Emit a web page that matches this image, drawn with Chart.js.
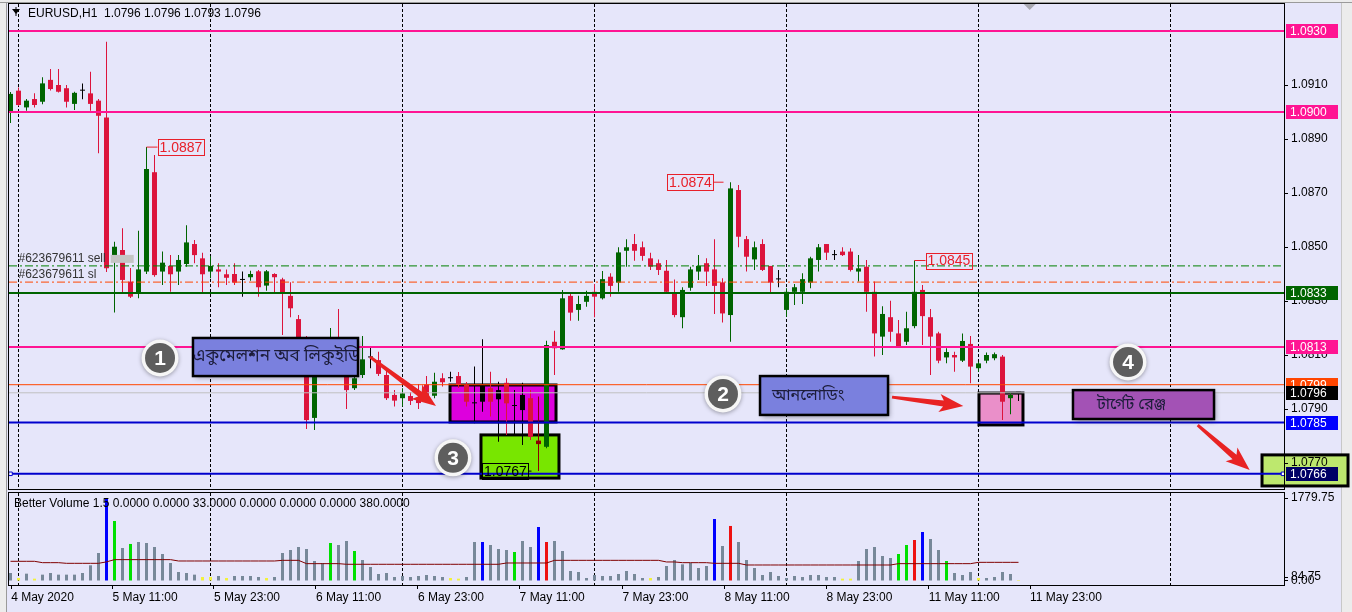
<!DOCTYPE html>
<html>
<head>
<meta charset="utf-8">
<title>EURUSD,H1</title>
<script src="https://cdn.jsdelivr.net/npm/chart.js@4.4.1/dist/chart.umd.min.js"></script>
<style>
  html, body { margin: 0; padding: 0; }
  body { width: 1352px; height: 612px; overflow: hidden; position: relative; background: #e6e6fa; }
  canvas { position: absolute; left: 0; }
  #priceChart { top: 0; }
  #volChart { top: 491px; }
  .edge { position: absolute; background: #ececec; }
</style>
</head>
<body>
<div class="edge" style="left:0;top:0;width:6px;height:612px;border-right:1px solid #9a9a9a"></div>
<div class="edge" style="left:1341px;top:0;width:11px;height:612px;border-left:1px solid #c8c8c8"></div>
<div class="edge" style="left:0;top:0;width:1352px;height:2px;border-bottom:1px solid #9a9a9a"></div>
<canvas id="priceChart" width="1352" height="491"></canvas>
<canvas id="volChart" width="1352" height="121"></canvas>
<script>
// EURUSD H1 candles (bar 0 = leftmost)
const opens = [
  1.09000,1.09079,1.09017,1.09048,1.09038,1.09119,1.09100,1.09088,1.09030,1.09079,
  1.09069,1.09042,1.08980,1.08452,1.08489,1.08372,1.08329,1.08409,1.08777,1.08409,
  1.08430,1.08409,1.08437,1.08511,1.08458,1.08409,1.08417,1.08399,1.08400,1.08378,
  1.08388,1.08410,1.08357,1.08400,1.08380,1.08319,1.08233,1.08156,1.07867,1.08074,
  1.08111,1.08152,1.08037,1.07977,1.08026,1.08091,1.08081,1.08026,1.07952,1.07940,
  1.07948,1.07941,1.07991,1.07949,1.08014,1.08014,1.08022,1.07989,1.07921,1.07927,
  1.07977,1.07936,1.07997,1.07911,1.07896,1.07940,1.07783,1.07760,1.08149,1.08121,
  1.08319,1.08267,1.08297,1.08334,1.08310,1.08390,1.08368,1.08486,1.08511,1.08499,
  1.08458,1.08440,1.08412,1.08331,1.08240,1.08349,1.08409,1.08440,1.08417,1.08369,
  1.08248,1.08711,1.08529,1.08454,1.08511,1.08430,1.08380,1.08267,1.08334,1.08334,
  1.08368,1.08452,1.08511,1.08470,1.08483,1.08483,1.08409,1.08427,1.08334,1.08168,
  1.08240,1.08180,1.08149,1.08207,1.08341,1.08240,1.08180,1.08091,1.08100,1.08079,
  1.08141,1.08051,1.08079,1.08088,1.08094,1.07940,1.07960
];
const highs = [
  1.09074,1.09091,1.09048,1.09069,1.09129,1.09159,1.09159,1.09100,1.09075,1.09106,
  1.09149,1.09048,1.09260,1.08519,1.08569,1.08422,1.08560,1.08870,1.08841,1.08483,
  1.08470,1.08470,1.08581,1.08526,1.08479,1.08467,1.08440,1.08417,1.08440,1.08409,
  1.08412,1.08415,1.08415,1.08403,1.08386,1.08369,1.08248,1.08170,1.08111,1.08137,
  1.08200,1.08270,1.08063,1.08044,1.08170,1.08131,1.08112,1.08044,1.07970,1.07977,
  1.07963,1.07993,1.08022,1.08034,1.08032,1.08038,1.08037,1.08000,1.08057,1.08158,
  1.08038,1.08001,1.08014,1.07970,1.07997,1.07970,1.07946,1.08153,1.08190,1.08341,
  1.08331,1.08319,1.08338,1.08363,1.08411,1.08403,1.08499,1.08529,1.08548,1.08520,
  1.08479,1.08454,1.08452,1.08380,1.08351,1.08427,1.08470,1.08458,1.08529,1.08384,
  1.08740,1.08730,1.08541,1.08520,1.08529,1.08430,1.08415,1.08347,1.08363,1.08403,
  1.08464,1.08511,1.08511,1.08489,1.08499,1.08495,1.08470,1.08452,1.08372,1.08281,
  1.08301,1.08230,1.08260,1.08450,1.08359,1.08270,1.08186,1.08125,1.08112,1.08180,
  1.08170,1.08075,1.08109,1.08109,1.08100,1.07958,1.07960
];
const lows = [
  1.08959,1.09022,1.09005,1.09017,1.09029,1.09080,1.09072,1.09017,1.09007,1.09047,
  1.09005,1.08847,1.08407,1.08257,1.08329,1.08311,1.08310,1.08400,1.08390,1.08359,
  1.08334,1.08359,1.08427,1.08440,1.08331,1.08384,1.08351,1.08359,1.08359,1.08316,
  1.08375,1.08316,1.08338,1.08329,1.08174,1.08240,1.08137,1.07826,1.07822,1.08052,
  1.08096,1.08022,1.07900,1.07970,1.08015,1.08051,1.08022,1.07933,1.07909,1.07909,
  1.07915,1.07900,1.07940,1.07940,1.07983,1.08001,1.07978,1.07909,1.07847,1.07890,
  1.07872,1.07779,1.07804,1.07804,1.07767,1.07785,1.07670,1.07755,1.08026,1.08119,
  1.08227,1.08227,1.08279,1.08240,1.08306,1.08316,1.08334,1.08427,1.08449,1.08449,
  1.08415,1.08396,1.08330,1.08240,1.08199,1.08338,1.08378,1.08356,1.08252,1.08220,
  1.08149,1.08499,1.08409,1.08415,1.08411,1.08329,1.08351,1.08242,1.08285,1.08289,
  1.08347,1.08409,1.08452,1.08452,1.08467,1.08409,1.08372,1.08260,1.08094,1.08100,
  1.08149,1.08129,1.08137,1.08199,1.08137,1.08026,1.08069,1.08069,1.08038,1.08074,
  1.07995,1.08038,1.08069,1.08081,1.07859,1.07881,1.07930
];
const closes = [
  1.09067,1.09026,1.09042,1.09026,1.09106,1.09085,1.09075,1.09038,1.09071,1.09079,
  1.09030,1.08986,1.08421,1.08501,1.08378,1.08316,1.08417,1.08789,1.08396,1.08442,
  1.08399,1.08452,1.08517,1.08470,1.08399,1.08430,1.08409,1.08386,1.08368,1.08378,
  1.08400,1.08351,1.08410,1.08388,1.08329,1.08273,1.08156,1.07859,1.08081,1.08119,
  1.08156,1.08037,1.07970,1.08014,1.08084,1.08091,1.08030,1.07940,1.07931,1.07958,
  1.07930,1.07922,1.07946,1.08001,1.07999,1.08014,1.07989,1.07927,1.07921,1.07989,
  1.07927,1.07970,1.07921,1.07911,1.07952,1.07797,1.07770,1.08137,1.08125,1.08310,
  1.08257,1.08289,1.08319,1.08316,1.08381,1.08356,1.08480,1.08499,1.08486,1.08467,
  1.08427,1.08415,1.08334,1.08248,1.08341,1.08417,1.08430,1.08409,1.08356,1.08254,
  1.08717,1.08538,1.08464,1.08499,1.08415,1.08368,1.08380,1.08334,1.08351,1.08381,
  1.08458,1.08499,1.08479,1.08470,1.08470,1.08415,1.08421,1.08334,1.08180,1.08252,
  1.08186,1.08133,1.08199,1.08334,1.08244,1.08168,1.08079,1.08111,1.08091,1.08152,
  1.08057,1.08069,1.08100,1.08103,1.07927,1.07952,1.07960
];

// Better Volume indicator
const volumes = [
  172,64,157,50,136,172,136,136,136,172, 336,600,1780,1287,708,794,836,815,729,579,
  386,193,172,136,86,86,107,64,107,107, 107,86,64,86,600,665,729,686,429,386,
  815,772,858,643,450,300,150,172,86,107, 86,107,129,107,86,64,50,86,836,836,
  772,686,665,622,858,729,1158,836,858,643, 214,193,64,129,107,107,150,214,150,64,
  64,86,322,450,357,386,279,322,1330,751, 1180,836,450,279,129,193,107,64,107,86,
  129,129,86,86,50,50,429,686,729,536, 493,579,772,879,1051,901,665,429,172,129,
  193,64,64,86,193,150,21
];
const volumeMA = [
  422,422,422,422,393,393,393,379,379,379, 379,379,410,458,458,458,458,458,458,458,
  458,429,429,429,429,429,429,429,429,429, 429,429,429,429,443,443,443,372,372,372,
  372,372,358,358,358,358,358,358,358,358, 358,358,358,358,358,358,358,358,358,358,
  358,358,386,386,386,386,386,386,443,443, 443,443,443,443,443,443,443,443,443,443,
  443,443,408,408,393,393,393,393,379,379, 379,379,343,343,343,343,343,343,343,343,
  343,343,343,343,343,343,343,343,343,343, 343,372,372,372,372,372,372,372,372,372,
  372,400,400,400,400,400,400
];
const blueBars = [12, 59, 66, 88, 114];
const greenBars = [13, 15, 40, 43, 63, 111, 112, 117];
const redBars = [67, 90, 113];
const yellowBars = [1, 3, 24, 25, 27, 32, 55, 56, 80, 104, 105, 121, 126];

// axes
const priceTicks = [1.0770, 1.0790, 1.0810, 1.0830, 1.0850, 1.0870, 1.0890, 1.0910];
const volTicks = [1779.75, 84.75, 0];
const dayBars = [1, 25, 49, 73, 97, 121, 145];
const xTickBars = [0.08, 12.75, 25.43, 38.18, 50.93, 63.64, 76.49, 89.24, 101.99, 114.79, 127.44];
const xTickLabels = ['4 May 2020', '5 May 11:00', '5 May 23:00', '6 May 11:00', '6 May 23:00', '7 May 11:00',
                     '7 May 23:00', '8 May 11:00', '8 May 23:00', '11 May 11:00', '11 May 23:00'];

// horizontal levels and open order lines
const levelPrices = [1.0930, 1.0900, 1.0833, 1.0813, 1.0799, 1.0796, 1.0785, 1.0766];
const orderPrices = [1.0843, 1.0837];
const orderNames = ['#623679611 sell', '#623679611 sl'];

const FONT = '"Liberation Sans", Arial, sans-serif';
const BENGALI = '"Noto Sans Bengali", "Noto Sans", "Lohit Bengali", sans-serif';
const BULL = '#006400', BEAR = '#dc143c';
const X_MIN = -0.1875, X_MAX = X_MIN + 1275 / 8;

const levelStyle = [
  { color: '#ff1493', width: 2, tag: '#ff1493' },
  { color: '#ff1493', width: 2, tag: '#ff1493' },
  { color: '#006400', width: 2, tag: '#006400' },
  { color: '#ff1493', width: 2, tag: '#ff1493' },
  { color: '#ff4500', width: 1, tag: '#ff4500' },
  { color: '#c0c0c0', width: 1, tag: '#000000' },
  { color: '#0000cd', width: 2, tag: '#0000ff' },
  { color: '#0000cd', width: 2, tag: '#000066', ends: true }
];
const orderStyle = [
  { color: '#008000', dash: [8, 3, 2, 3] },
  { color: '#ff4500', dash: [8, 3, 2, 3] }
];
const tintOverride = { 59: '#000000', 61: '#000000', 64: '#000000', 66: '#8b0000' };

const idx = opens.map((_, i) => i);
const candleColors = idx.map(i => tintOverride[i] ||
  (closes[i] > opens[i] ? BULL : closes[i] < opens[i] ? BEAR : '#000000'));
const volColors = idx.map(i =>
  blueBars.includes(i) ? '#0000ff' :
  greenBars.includes(i) ? '#00e000' :
  redBars.includes(i) ? '#ee1111' :
  yellowBars.includes(i) ? '#f2f23c' : '#778899');

// chart objects, anchored in bar / price units
const fillBoxes = [
  { x0: 54.94, x1: 68.19, p0: 1.07989, p1: 1.07852, fill: '#dd00dd' },
  { x0: 58.81, x1: 68.56, p0: 1.07804, p1: 1.07644, fill: '#78e600' },
  { x0: 121.06, x1: 126.56, p0: 1.07959, p1: 1.07841, fill: '#ea8fc9' }
];
const noteBoxes = [
  { x0: 22.81, x1: 43.44, p0: 1.08163, p1: 1.08022, fill: '#7a80de', text: 'একুমেলশন অব লিকুইডিটি', tx: 0, size: 17 },
  { x0: 93.69, x1: 109.69, p0: 1.08022, p1: 1.07878, fill: '#7a80de', text: 'আনলোডিং', tx: 12, size: 16 },
  { x0: 132.81, x1: 150.44, p0: 1.07970, p1: 1.07863, fill: '#a352b5', text: 'টার্গেট রেঞ্জ', tx: 24, size: 16 }
];
const badges = [
  { x: 18.69, p: 1.08089, n: '1' },
  { x: 89.06, p: 1.07956, n: '2' },
  { x: 55.31, p: 1.07719, n: '3' },
  { x: 139.69, p: 1.08074, n: '4' }
];
const arrows = [
  { x0: 44.94, p0: 1.08093, x1: 53.19, p1: 1.07911 },
  { x0: 110.19, p0: 1.07944, x1: 119.1, p1: 1.07911 },
  { x0: 148.4, p0: 1.07840, x1: 154.9, p1: 1.07674 }
];
const priceTags = [
  { bar: 17, val: highs[17], side: 'right', color: '#e8202a' },
  { bar: 90, val: highs[90], side: 'left', color: '#e8202a' },
  { bar: 113, val: highs[113], side: 'right', color: '#e8202a' },
  { bar: 66, val: lows[66], side: 'left', color: '#000000' }
];
const targetBox = { x0: 156.44, x1: 167.19, p0: 1.07730, p1: 1.07615, fill: '#bde86e' };

function drawArrow(ctx, x1, y1, x2, y2) {
  const a = Math.atan2(y2 - y1, x2 - x1), len = Math.hypot(x2 - x1, y2 - y1);
  ctx.save();
  ctx.translate(x1, y1);
  ctx.rotate(a);
  ctx.fillStyle = '#e82323';
  ctx.beginPath();
  ctx.moveTo(0, -1.5);
  ctx.lineTo(len - 20, -3);
  ctx.lineTo(len - 24, -9);
  ctx.lineTo(len, 0);
  ctx.lineTo(len - 24, 9);
  ctx.lineTo(len - 20, 3);
  ctx.lineTo(0, 1.5);
  ctx.closePath();
  ctx.fill();
  ctx.restore();
}

function drawBadge(ctx, x, y, n) {
  ctx.save();
  ctx.shadowColor = 'rgba(0,0,0,0.35)';
  ctx.shadowBlur = 4;
  ctx.shadowOffsetY = 1;
  ctx.beginPath();
  ctx.arc(x, y, 18.5, 0, Math.PI * 2);
  ctx.fillStyle = '#f6f6f6';
  ctx.fill();
  ctx.shadowColor = 'transparent';
  ctx.beginPath();
  ctx.arc(x, y, 15, 0, Math.PI * 2);
  ctx.fillStyle = '#5e5e5e';
  ctx.fill();
  ctx.fillStyle = '#ffffff';
  ctx.font = 'bold 21px ' + FONT;
  ctx.textAlign = 'center';
  ctx.textBaseline = 'middle';
  ctx.fillText(n, x, y + 1);
  ctx.restore();
}

function rectOf(chart, b) {
  const xs = chart.scales.x, ys = chart.scales.y;
  const L = xs.getPixelForValue(b.x0), R = xs.getPixelForValue(b.x1);
  const T = ys.getPixelForValue(b.p0), B = ys.getPixelForValue(b.p1);
  return { L, T, W: R - L, H: B - T };
}

const mainDecor = {
  id: 'mainDecor',
  beforeDraw(chart) {
    const ctx = chart.ctx, r = rectOf(chart, targetBox);
    ctx.save();
    ctx.fillStyle = targetBox.fill;
    ctx.fillRect(r.L, r.T, r.W, r.H);
    ctx.lineWidth = 3;
    ctx.strokeStyle = '#000';
    ctx.strokeRect(r.L, r.T, r.W, r.H);
    ctx.restore();
  },
  beforeDatasetsDraw(chart) {
    const ctx = chart.ctx;
    ctx.save();
    fillBoxes.forEach(b => {
      const r = rectOf(chart, b);
      ctx.fillStyle = b.fill;
      ctx.fillRect(r.L, r.T, r.W, r.H);
      ctx.lineWidth = 3;
      ctx.strokeStyle = '#000';
      ctx.strokeRect(r.L, r.T, r.W, r.H);
    });
    ctx.restore();
  },
  afterDatasetsDraw(chart) {
    const ctx = chart.ctx, xs = chart.scales.x, ys = chart.scales.y, ca = chart.chartArea;
    const X = v => xs.getPixelForValue(v), Y = v => ys.getPixelForValue(v);
    ctx.save();

    // frame
    ctx.strokeStyle = '#000';
    ctx.lineWidth = 1;
    ctx.strokeRect(ca.left - 0.5, ca.top - 0.5, ca.width + 1, ca.height);

    // order line captions
    ctx.font = '12px ' + FONT;
    ctx.textBaseline = 'middle';
    ctx.textAlign = 'left';
    orderPrices.forEach((p, k) => {
      ctx.fillStyle = '#333';
      ctx.fillText(orderNames[k], X(1), Y(p) - 7);
      if (k === 0) {
        const w = ctx.measureText(orderNames[k]).width;
        ctx.fillStyle = '#c4c4c4';
        ctx.fillRect(X(1) + w + 5, Y(p) - 11, 23, 8);
      }
    });

    // high / low tags
    ctx.font = '14px ' + FONT;
    priceTags.forEach(t => {
      const cx = X(t.bar), cy = Y(t.val), w = 46, h = 16;
      const left = t.side === 'right' ? cx + 11 : cx - (t.color === '#000000' ? 10.5 : 17.5) - w;
      ctx.strokeStyle = t.color;
      ctx.lineWidth = 1;
      ctx.beginPath();
      if (t.side === 'right') { ctx.moveTo(cx, cy); ctx.lineTo(left, cy); }
      else { ctx.moveTo(left + w, cy); ctx.lineTo(cx - 7, cy); }
      ctx.stroke();
      ctx.strokeRect(Math.round(left) + 0.5, Math.round(cy - h / 2) + 0.5, w, h);
      ctx.fillStyle = t.color;
      ctx.fillText(t.val.toFixed(4), left + 2, cy + 1);
    });

    // text notes
    noteBoxes.forEach(b => {
      const r = rectOf(chart, b);
      ctx.save();
      ctx.shadowColor = 'rgba(40,40,60,0.45)';
      ctx.shadowBlur = 5;
      ctx.shadowOffsetX = 2;
      ctx.shadowOffsetY = 2;
      ctx.fillStyle = b.fill;
      ctx.fillRect(r.L, r.T, r.W, r.H);
      ctx.restore();
      ctx.lineWidth = 2.5;
      ctx.strokeStyle = '#000';
      ctx.strokeRect(r.L, r.T, r.W, r.H);
      ctx.save();
      ctx.beginPath();
      ctx.rect(r.L, r.T, r.W - 1, r.H);
      ctx.clip();
      ctx.fillStyle = '#1c1c3a';
      ctx.font = b.size + 'px ' + BENGALI;
      ctx.textBaseline = 'middle';
      ctx.fillText(b.text, r.L + b.tx, r.T + r.H / 2 + 1);
      ctx.restore();
    });

    arrows.forEach(a => drawArrow(ctx, X(a.x0), Y(a.p0), X(a.x1), Y(a.p1)));
    badges.forEach(b => drawBadge(ctx, X(b.x), Y(b.p), b.n));

    // title
    const n = opens.length - 1;
    ctx.fillStyle = '#000';
    ctx.beginPath();
    ctx.moveTo(12, 9); ctx.lineTo(20, 9); ctx.lineTo(16, 14); ctx.closePath();
    ctx.fill();
    ctx.fillRect(15.5, 7, 1, 9);
    ctx.font = '12px ' + FONT;
    ctx.textAlign = 'left';
    ctx.textBaseline = 'middle';
    ctx.fillText('EURUSD,H1  ' + [opens[n], highs[n], lows[n], closes[n]].map(v => v.toFixed(4)).join(' '), 28, 14);

    // chart shift marker
    const sx = X(127.4);
    ctx.fillStyle = '#a8a8b0';
    ctx.beginPath();
    ctx.moveTo(sx - 6, ca.top); ctx.lineTo(sx + 6, ca.top); ctx.lineTo(sx, ca.top + 6); ctx.closePath();
    ctx.fill();
    ctx.restore();
  },
  afterDraw(chart) {
    const ctx = chart.ctx, ys = chart.scales.y, ca = chart.chartArea;
    ctx.save();
    ctx.font = '12px ' + FONT;
    ctx.textBaseline = 'middle';
    ctx.textAlign = 'left';
    levelPrices.forEach((p, k) => {
      const y = Math.round(ys.getPixelForValue(p));
      ctx.fillStyle = levelStyle[k].tag;
      ctx.fillRect(ca.right + 2, y - 7, 52, 14);
      ctx.fillStyle = '#ffffff';
      ctx.fillText(p.toFixed(4), ca.right + 6, y + 0.5);
    });
    ctx.restore();
  }
};

Chart.defaults.font.family = FONT;
Chart.defaults.font.size = 12;
Chart.defaults.color = '#000';

const levelDatasets = levelPrices.map((p, k) => ({
  type: 'line',
  data: levelStyle[k].ends ? [{ x: 0, y: p }, { x: 159.06, y: p }] : [{ x: X_MIN, y: p }, { x: X_MAX, y: p }],
  borderColor: levelStyle[k].color,
  borderWidth: levelStyle[k].width,
  pointRadius: levelStyle[k].ends ? 2.5 : 0,
  pointStyle: 'rect',
  pointBackgroundColor: '#ffffff',
  pointBorderColor: '#0000cd',
  pointBorderWidth: 1,
  order: 1
}));
const orderDatasets = orderPrices.map((p, k) => ({
  type: 'line',
  data: [{ x: X_MIN, y: p }, { x: X_MAX, y: p }],
  borderColor: orderStyle[k].color,
  borderWidth: 1,
  borderDash: orderStyle[k].dash,
  pointRadius: 0,
  order: 1
}));

new Chart(document.getElementById('priceChart'), {
  type: 'bar',
  data: {
    datasets: [
      {
        data: idx.map(i => ({ x: i, y: [lows[i], highs[i]] })),
        backgroundColor: candleColors,
        barThickness: 1,
        grouped: false,
        inflateAmount: 0,
        order: 3
      },
      {
        data: idx.map(i => ({ x: i, y: [opens[i], closes[i]] })),
        backgroundColor: candleColors,
        barThickness: 5,
        minBarLength: 1,
        grouped: false,
        inflateAmount: 0,
        order: 2
      },
      ...orderDatasets,
      ...levelDatasets
    ]
  },
  options: {
    responsive: false,
    devicePixelRatio: 1,
    animation: false,
    events: [],
    layout: { autoPadding: false, padding: { left: 9, top: 4, right: 0, bottom: 1 } },
    plugins: { legend: { display: false }, tooltip: { enabled: false } },
    scales: {
      x: {
        type: 'linear',
        min: X_MIN,
        max: X_MAX,
        offset: false,
        afterBuildTicks: s => { s.ticks = dayBars.map(v => ({ value: v })); },
        afterFit: s => { s.height = 0; s.paddingLeft = 0; s.paddingRight = 0; },
        ticks: { display: false },
        grid: { offset: false, drawTicks: false, color: '#000', lineWidth: 1 },
        border: { display: false, dash: [3, 2] }
      },
      y: {
        type: 'linear',
        position: 'right',
        min: 1.0760,
        max: 1.0940,
        beginAtZero: false,
        afterBuildTicks: s => { s.ticks = priceTicks.map(v => ({ value: v })); },
        afterFit: s => { s.width = 68; s.paddingTop = 0; s.paddingBottom = 0; },
        ticks: { autoSkip: false, padding: 3, callback: v => Number(v).toFixed(4) },
        grid: { drawOnChartArea: false, drawTicks: true, tickLength: 4, color: '#000' },
        border: { display: false }
      }
    }
  },
  plugins: [mainDecor]
});

const volDecor = {
  id: 'volDecor',
  afterDraw(chart) {
    const ctx = chart.ctx, ca = chart.chartArea;
    ctx.save();
    ctx.strokeStyle = '#000';
    ctx.lineWidth = 1;
    ctx.strokeRect(ca.left - 0.5, ca.top - 0.5, ca.width + 1, ca.height + 1);
    ctx.fillStyle = '#000';
    ctx.font = '12px ' + FONT;
    ctx.textBaseline = 'middle';
    ctx.fillText('Better Volume 1.5 0.0000 0.0000 33.0000 0.0000 0.0000 0.0000 380.0000', 14, 13);
    ctx.restore();
  }
};

new Chart(document.getElementById('volChart'), {
  type: 'bar',
  data: {
    datasets: [
      {
        data: idx.map(i => ({ x: i, y: volumes[i] })),
        backgroundColor: volColors,
        barThickness: 3,
        grouped: false,
        inflateAmount: 0,
        order: 2
      },
      {
        type: 'line',
        data: idx.map(i => ({ x: i, y: volumeMA[i] })),
        borderColor: '#800000',
        borderWidth: 1,
        pointRadius: 0,
        order: 1
      }
    ]
  },
  options: {
    responsive: false,
    devicePixelRatio: 1,
    animation: false,
    events: [],
    layout: { autoPadding: false, padding: { left: 9, top: 2, right: 0, bottom: 0 } },
    plugins: { legend: { display: false }, tooltip: { enabled: false } },
    scales: {
      x: {
        type: 'linear',
        min: X_MIN,
        max: X_MAX,
        offset: false,
        afterBuildTicks: s => { s.ticks = xTickBars.map(v => ({ value: v })); },
        afterFit: s => { s.height = 27; s.paddingLeft = 0; s.paddingRight = 0; },
        ticks: { autoSkip: false, maxRotation: 0, align: 'start', padding: 1, callback: (v, i) => xTickLabels[i] },
        grid: { offset: false, drawOnChartArea: false, drawTicks: true, tickLength: 4, color: '#000' },
        border: { display: false }
      },
      xg: {
        type: 'linear',
        position: 'bottom',
        min: X_MIN,
        max: X_MAX,
        offset: false,
        afterBuildTicks: s => { s.ticks = dayBars.map(v => ({ value: v })); },
        afterFit: s => { s.height = 0; s.paddingLeft = 0; s.paddingRight = 0; },
        ticks: { display: false },
        grid: { offset: false, drawTicks: false, color: '#000', lineWidth: 1 },
        border: { display: false, dash: [3, 2] }
      },
      y: {
        type: 'linear',
        position: 'right',
        min: -86,
        max: 1887,
        beginAtZero: false,
        afterBuildTicks: s => { s.ticks = volTicks.map(v => ({ value: v })); },
        afterFit: s => { s.width = 68; s.paddingTop = 0; s.paddingBottom = 0; },
        ticks: { autoSkip: false, padding: 3, callback: v => Number(v).toFixed(2) },
        grid: { drawOnChartArea: false, drawTicks: true, tickLength: 4, color: '#000' },
        border: { display: false }
      }
    }
  },
  plugins: [volDecor]
});
</script>
</body>
</html>
